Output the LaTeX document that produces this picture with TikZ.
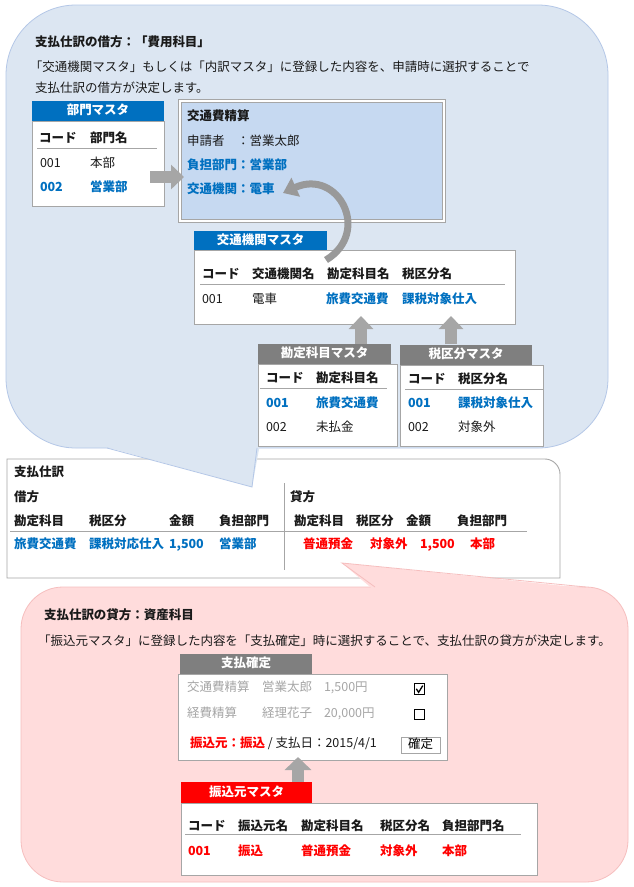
\documentclass[tikz,border=0pt]{standalone}
\usepackage{fontspec}
\setmainfont{Noto Sans CJK JP}
\usetikzlibrary{arrows.meta}
\definecolor{cbfill}{HTML}{DCE6F2}
\definecolor{cbline}{HTML}{B4C7E7}
\definecolor{kfill}{HTML}{C6D9F1}
\definecolor{cblue}{HTML}{0070C0}
\definecolor{cgry}{HTML}{A6A6A6}
\definecolor{chdr}{HTML}{7F7F7F}
\definecolor{carr}{HTML}{A6A6A6}
\definecolor{ccurve}{HTML}{999999}
\definecolor{cpfill}{HTML}{FFDCDC}
\definecolor{cpline}{HTML}{F6BEBE}
\definecolor{cred}{HTML}{FF0000}
\definecolor{clgt}{HTML}{A6A6A6}
\definecolor{ctxt}{HTML}{1A1A1A}
\newcommand\fs{\fontsize{12.5}{15}\selectfont}
\newcount\nodecnt
\newcommand\tx[4][]{\global\advance\nodecnt by 1\relax
  \node[txt,#1] (t\the\nodecnt) at (#2,#3) {#4};}
\tikzset{
  txt/.style={anchor=west, inner sep=0pt, outer sep=0pt, text height=0.88em,
    text depth=0.12em, font=\fs, text=ctxt},
  bd/.style={font=\fs\bfseries},
  bb/.style={font=\fs\bfseries, text=cblue},
  rb/.style={font=\fs\bfseries, text=cred},
  lg/.style={text=clgt},
  bx/.style={draw=cgry, line width=0.9pt, fill=white, inner sep=0pt,
    outer sep=0pt, anchor=north west},
  hdr/.style={inner sep=0pt, outer sep=0pt, anchor=north west, text=white,
    font=\fs\bfseries, text height=0.88em, text depth=0.12em},
  rule/.style={draw=cgry, line width=0.9pt},
  barr/.style={draw=carr, line width=12pt,
    -{Triangle[length=13pt,width=24pt]}},
  carrow/.style={draw=ccurve, line width=7pt,
    -{Triangle[length=14pt,width=20pt]}},
}
\begin{document}
\begin{tikzpicture}[x=1pt,y=-1pt]
\useasboundingbox (0,0) rectangle (634,887);
\fill[white] (0,0) rectangle (634,887);

% ---- journal box (drawn first, callout tails overlap it)
\draw[draw=cgry, line width=0.9pt, fill=white]
  (7,578) -- (7,459) -- (545,459) .. controls (553,459) and (560,466) ..
  (560,474) -- (560,578) -- cycle;

% ---- blue callout
\draw[fill=cbfill, draw=cbline, line width=0.8pt, rounded corners=70pt]
  (6,5) rectangle (608,448);
\fill[cbfill] (104,446.5) -- (252,487) -- (259.5,446.5) -- cycle;
\draw[draw=cbline, line width=0.8pt] (107,448) -- (252,487) -- (257,448);

% ---- pink callout
\draw[fill=cpfill, draw=cpline, line width=0.8pt, rounded corners=42pt]
  (21,587) rectangle (628,882);
\fill[cpfill] (372,588.5) -- (342,563) -- (589,588.5) -- cycle;
\draw[draw=cpline, line width=0.8pt] (375,587) -- (342,563) -- (586,587);

% ---- blue callout texts
\tx[bd]{35}{43}{支払仕訳の借方：「費用科目」}
\tx{30}{68}{「交通機関マスタ」もしくは「内訳マスタ」に登録した内容を、申請時に選択することで}
\tx{35}{89}{支払仕訳の借方が決定します。}

% ---- 部門マスタ
\node[bx, minimum width=132pt, minimum height=85pt] (bumonB) at (32,121) {};
\node[hdr, fill=cblue, minimum width=132pt, minimum height=20pt] (bumonH) at (32,101) {部門マスタ};
\tx[bd]{39}{139}{コード}
\tx[bd]{90}{139}{部門名}
\draw[rule] (37,148) -- (157,148);
\tx{40}{164}{001}
\tx{90}{164}{本部}
\tx[bb]{40}{188}{002}
\tx[bb]{90}{188}{営業部}

% ---- 交通費精算
\node[draw=cgry, line width=0.8pt, double=white, double distance=1.6pt,
  fill=kfill, inner sep=0pt, outer sep=0pt, anchor=north west,
  minimum width=264pt, minimum height=120pt] (kotsuhi) at (180,101) {};
\tx[bd]{187}{117}{交通費精算}
\tx{187}{142}{申請者　：営業太郎}
\tx[bb]{187}{166}{負担部門：営業部}
\tx[bb]{187}{190}{交通機関：電車}

% arrow 部門 -> 交通費精算
\coordinate (a1s) at (150,177);
\coordinate (a1e) at (184,177);
\draw[barr] (a1s) -- (a1e);

% ---- 交通機関マスタ
\node[bx, minimum width=321pt, minimum height=74pt] (kikanB) at (194,250) {};
\node[hdr, fill=cblue, minimum width=133pt, minimum height=19pt] (kikanH) at (194,231) {交通機関マスタ};
\tx[bd]{202}{275}{コード}
\tx[bd]{252}{275}{交通機関名}
\tx[bd]{327}{275}{勘定科目名}
\tx[bd]{402}{275}{税区分名}
\draw[rule] (200,284) -- (505,284);
\tx{202}{300}{001}
\tx{252}{300}{電車}
\tx[bb]{326}{300}{旅費交通費}
\tx[bb]{402}{300}{課税対象仕入}

% curved arrow 交通機関マスタ -> 交通機関
\coordinate (arcS) at (326,260);
\coordinate (arcE) at (283,193);
\draw[carrow] (arcS) .. controls (372,232) and (338,168) .. (arcE);

% ---- 勘定科目マスタ
\node[bx, minimum width=139pt, minimum height=82pt] (kanjoB) at (258,364) {};
\node[hdr, fill=chdr, minimum width=133pt, minimum height=20pt] (kanjoH) at (258,344) {勘定科目マスタ};
\tx[bd]{266}{379}{コード}
\tx[bd]{316}{379}{勘定科目名}
\draw[rule] (260,388) -- (387,388);
\tx[bb]{266}{404}{001}
\tx[bb]{316}{404}{旅費交通費}
\tx{266}{428}{002}
\tx{316}{428}{未払金}

% ---- 税区分マスタ
\node[bx, minimum width=143pt, minimum height=81pt] (zeiB) at (400,365) {};
\node[hdr, fill=chdr, minimum width=132pt, minimum height=20pt] (zeiH) at (400,345) {税区分マスタ};
\tx[bd]{408}{380}{コード}
\tx[bd]{458}{380}{税区分名}
\draw[rule] (405,389) -- (543,389);
\tx[bb]{408}{404}{001}
\tx[bb]{458}{404}{課税対象仕入}
\tx{408}{428}{002}
\tx{458}{428}{対象外}

% up arrows
\coordinate (u1s) at (361,344);
\coordinate (u1e) at (361,316);
\coordinate (u2s) at (451,344);
\coordinate (u2e) at (451,316);
\draw[barr] (u1s) -- (u1e);
\draw[barr] (u2s) -- (u2e);

% ---- 支払仕訳 contents
\tx[bd]{14}{473}{支払仕訳}
\tx[bd]{14}{498}{借方}
\tx[bd]{290}{498}{貸方}
\tx[bd]{14}{522}{勘定科目}
\tx[bd]{89}{522}{税区分}
\tx[bd]{169}{522}{金額}
\tx[bd]{219}{522}{負担部門}
\tx[bd]{294}{522}{勘定科目}
\tx[bd]{356}{522}{税区分}
\tx[bd]{406}{522}{金額}
\tx[bd]{457}{522}{負担部門}
\draw[rule] (10,531) -- (527,531);
\draw[rule] (284,483) -- (284,570);
\tx[bb]{14}{545}{旅費交通費}
\tx[bb]{89}{545}{課税対応仕入}
\tx[bb]{169}{545}{1,500}
\tx[bb]{219}{545}{営業部}
\tx[rb]{303}{545}{普通預金}
\tx[rb]{370}{545}{対象外}
\tx[rb]{420}{545}{1,500}
\tx[rb]{470}{545}{本部}

% ---- pink callout texts
\tx[bd]{44}{616}{支払仕訳の貸方：資産科目}
\tx{38}{642}{「振込元マスタ」に登録した内容を「支払確定」時に選択することで、支払仕訳の貸方が決定します。}

% ---- 支払確定
\node[bx, minimum width=269pt, minimum height=86pt] (kakuB) at (178,674) {};
\node[hdr, fill=chdr, minimum width=132pt, minimum height=20pt] (kakuH) at (180,654) {支払確定};
\tx[lg]{187}{688}{交通費精算}
\tx[lg]{262}{688}{営業太郎}
\tx[lg]{324}{688}{1,500円}
\tx[lg]{187}{714}{経費精算}
\tx[lg]{262}{714}{経理花子}
\tx[lg]{324}{714}{20,000円}
\node[draw=black, line width=0.9pt, minimum size=10.5pt, inner sep=0pt] (chk1) at (419.5,689) {};
\draw[line width=1.3pt] (416.3,688.8) -- (418.6,692.3) -- (422.8,685.6);
\node[draw=black, line width=0.9pt, minimum size=10.5pt, inner sep=0pt] (chk2) at (419.5,714.5) {};
\tx{190}{744}{{\color{cred}\bfseries 振込元：振込} / 支払日：2015/4/1}
\node[draw=cgry, line width=0.9pt, fill=white, minimum width=39pt, minimum height=16pt,
  inner sep=0pt, font=\fs, text height=0.88em, text depth=0.12em] (btn) at (420.5,745) {確定};

% up arrow 振込元マスタ -> 支払確定
\coordinate (u3s) at (298,783);
\coordinate (u3e) at (298,757);
\draw[barr, -{Triangle[length=13pt,width=26pt]}] (u3s) -- (u3e);

% ---- 振込元マスタ
\node[bx, minimum width=356pt, minimum height=72pt] (furiB) at (181,803) {};
\node[hdr, fill=cred, minimum width=131pt, minimum height=21pt] (furiH) at (181,782) {振込元マスタ};
\tx[bd]{188}{827}{コード}
\tx[bd]{238}{827}{振込元名}
\tx[bd]{301}{827}{勘定科目名}
\tx[bd]{380}{827}{税区分名}
\tx[bd]{442}{827}{負担部門名}
\draw[rule] (185,834) -- (521,834);
\tx[rb]{188}{852}{001}
\tx[rb]{238}{852}{振込}
\tx[rb]{301}{852}{普通預金}
\tx[rb]{380}{852}{対象外}
\tx[rb]{442}{852}{本部}
\end{tikzpicture}
\end{document}
